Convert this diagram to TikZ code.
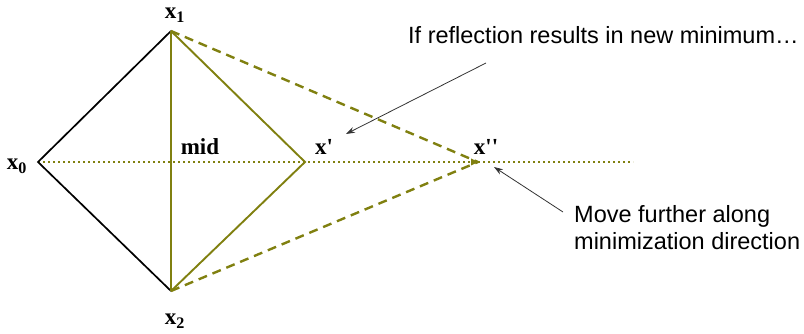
\documentclass[tikz,border=0pt]{standalone}
\usepackage{fontspec}
\setmainfont{Liberation Serif}
\newfontfamily\annfont{Liberation Sans}
\usetikzlibrary{arrows.meta}
\definecolor{olv}{RGB}{128,128,16}
\begin{document}
\begin{tikzpicture}[x=1pt,y=-1pt,
  vlabel/.style={font=\fontsize{23}{25}\selectfont\bfseries, inner sep=0pt},
  ann/.style={font=\annfont\fontsize{23.5}{27}\selectfont, inner sep=0pt, align=left},
  edgeblack/.style={black, line width=1.7pt},
  edgeolive/.style={olv, line width=1.9pt},
  dashedolive/.style={olv, line width=2.4pt, dash pattern=on 9pt off 6pt},
  dotolive/.style={olv, line width=1.8pt, dash pattern=on 1.8pt off 3.2pt},
  pointer/.style={black!80, line width=0.8pt, -{Stealth[length=9pt,width=6pt]}}]
\useasboundingbox (0,0) rectangle (804,334);
\coordinate (x0) at (38,162);
\coordinate (x1) at (171,31);
\coordinate (x2) at (171,291);
\coordinate (mid) at (171,162);
\coordinate (xr) at (305,162);
\coordinate (xe) at (478,162);
\coordinate (dend) at (633,162);
% dotted direction line
\draw[dotolive] (x0) -- (dend);
\fill[olv] (xe) -- ++(-7,-3.5) -- ++(0,7) -- cycle;
% original simplex
\draw[edgeblack] (x1) -- (x0) -- (x2);
% reflected simplex
\draw[edgeolive] (x1) -- (x2);
\draw[edgeolive] (x1) -- (xr) -- (x2);
% expanded
\draw[dashedolive] (x1) -- (xe);
\draw[dashedolive] (x2) -- (xe);
% labels
\node[vlabel] (lx1) at (175,15) {x\textsubscript{1}};
\node[vlabel] (lx0) at (17,166) {x\textsubscript{0}};
\node[vlabel] (lx2) at (175,321) {x\textsubscript{2}};
\node[vlabel] (lmid) at (200,147) {mid};
\node[vlabel] (lxr) at (324,147) {x\textquotesingle};
\node[vlabel] (lxe) at (486,147) {x\textquotesingle\textquotesingle};
% annotations
\node[ann, anchor=base west] (t1) at (408,44) {If reflection results in new minimum…};
\node[ann, anchor=north west] (t2) at (574,205) {Move further along\\minimization direction};
\coordinate (a1s) at (486,63);
\coordinate (a1e) at (346,134);
\coordinate (a2s) at (563,212);
\coordinate (a2e) at (494,167);
\draw[pointer] (a1s) -- (a1e);
\draw[pointer] (a2s) -- (a2e);
\end{tikzpicture}
\end{document}
